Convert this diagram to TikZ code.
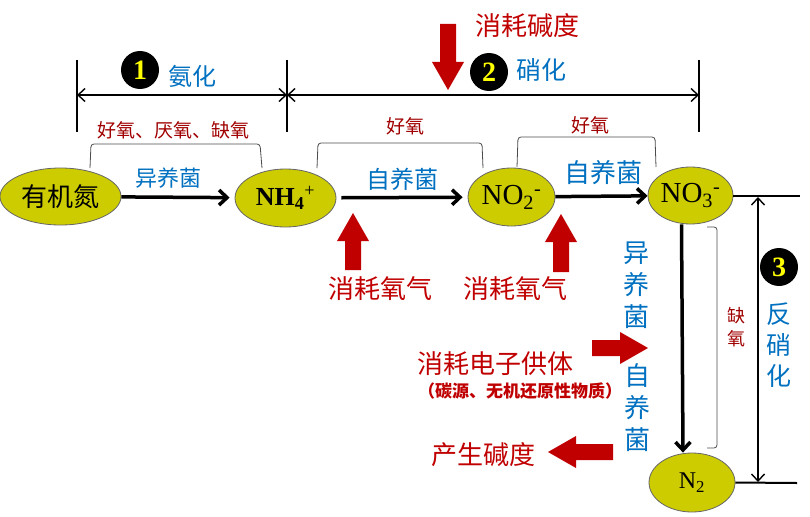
\documentclass[tikz,border=0pt]{standalone}
\usepackage{fontspec}
\setmainfont{Liberation Serif}
\newfontfamily\cjk{Noto Sans CJK SC}
\usetikzlibrary{%
  arrows.meta,%
  shapes.geometric,% ellipse
  positioning,%
  calc}

\definecolor{nfill}{HTML}{CCCC00}
\definecolor{cblue}{HTML}{0070C0}
\definecolor{cred}{HTML}{C00000}
\definecolor{cdred}{HTML}{A00000}
\definecolor{numyellow}{HTML}{FFFF00}

\begin{document}
\begin{tikzpicture}[x=1pt, y=-1pt,
  species/.style={ellipse, draw=black!60, line width=0.8pt, fill=nfill, inner sep=0pt},
  flow/.style={line width=3.5pt, -{Straight Barb[length=8pt,width=15pt]}},
  dimline/.style={line width=1.4pt, {Straight Barb[length=7pt,width=13pt]}-{Straight Barb[length=7pt,width=13pt]}},
  bar/.style={line width=2.5pt},
  brace/.style={line width=0.8pt, black!70, rounded corners=3pt},
  num/.style={circle, fill=black, text=numyellow, minimum size=38pt, inner sep=0pt,
    font=\bfseries\fontsize{28}{28}\selectfont},
  lbl/.style 2 args={inner sep=0pt, align=center, font=\cjk\fontsize{#1}{#2}\selectfont},
  chem/.style={inner sep=0pt, font=\fontsize{#1}{#1}\selectfont},
  pics/redarrow/.style={code={
    \fill[cred] (0,0) -- (16,28) -- (8,28) -- (8,#1) -- (-8,#1) -- (-8,28) -- (-16,28) -- cycle;}}
]
\useasboundingbox (0,0) rectangle (810,516);

% -------- species
\node [species, minimum width=121pt, minimum height=57pt] (orgN) at (60.5,196.5)
  {\cjk\fontsize{26}{26}\selectfont 有机氮};
\node [species, minimum width=101pt, minimum height=58pt, chem=26] (nh4) at (285.5,198)
  {\bfseries NH\textsubscript{4}\textsuperscript{\mdseries +}};
\node [species, minimum width=87pt, minimum height=58pt, chem=29] (no2) at (511.5,197)
  {NO\textsubscript{2}\textsuperscript{-}};
\node [species, minimum width=85pt, minimum height=57pt, chem=29] (no3) at (690.5,195.5)
  {NO\textsubscript{3}\textsuperscript{-}};
\node [species, minimum width=86pt, minimum height=59pt, chem=24] (n2) at (692,482.5)
  {N\textsubscript{2}};

\draw [flow, shorten >=5pt] (orgN) -- (nh4);
\draw [flow, shorten <=5pt, shorten >=5pt] (nh4) -- (no2);
\draw [flow] (no2) -- (no3);
\draw [flow] ([xshift=-9pt]no3.south) -- ([xshift=-9pt]n2.north);

\node [lbl={22}{22}, text=cblue] (bac1) at (168,178) {异养菌};
\node [lbl={24}{24}, text=cblue] (bac2) at (402,179) {自养菌};
\node [lbl={26}{26}, text=cblue] (bac3) at (603,173) {自养菌};

% -------- brackets
\draw [brace] (90,168) -- (91,144) -- (260,144) -- (262,168);
\node [lbl={19}{19}, text=cdred] (env1) at (173,130) {好氧、厌氧、缺氧};
\draw [brace] (317,168) -- (318,143) -- (482,143) -- (483,168);
\node [lbl={19}{19}, text=cdred] (env2) at (405,126) {好氧};
\draw [brace] (517,167) -- (518,137) -- (655,137) -- (656,167);
\node [lbl={19}{19}, text=cdred] (env3) at (590,125) {好氧};
\draw [brace] (707,227) -- (717,227) -- (717,448) -- (707,448);
\node [lbl={18}{23}, text=cdred] (env4) at (736,327) {缺\\氧};

% -------- stages
\coordinate (b1t) at (77,60);  \coordinate (b1b) at (77,132);
\coordinate (b2t) at (287,60); \coordinate (b2b) at (287,132);
\coordinate (b3t) at (699,60); \coordinate (b3b) at (699,132);
\draw [bar] (b1t) -- (b1b);
\draw [bar] (b2t) -- (b2b);
\draw [bar] (b3t) -- (b3b);
\coordinate (d1) at (77,95); \coordinate (d2) at (287,95); \coordinate (d3) at (699,95);
\draw [dimline] (d1) -- (d2);
\draw [dimline] (d2) -- (d3);

\node [num] (n1) at (140,70) {1};
\node [lbl={24}{24}, text=cblue] (st1) at (192,76) {氨化};
\node [num] (n2c) at (489,72) {2};
\node [lbl={25}{25}, text=cblue] (st2) at (541,70) {硝化};

\coordinate (r1) at (800,195.5);
\coordinate (r2) at (797,483);
\draw [line width=2pt] (no3.east) -- (r1);
\draw [line width=2pt] (n2.east) -- (r2);
\coordinate (dn1) at (758,197);
\coordinate (dn2) at (758,482);
\draw [dimline] (dn1) -- (dn2);
\node [num] (n3) at (779,267) {3};
\node [lbl={25}{31}, text=cblue] (st3) at (779,345) {反\\硝\\化};

% -------- consumption / production
\pic [rotate=180] at (448,90) {redarrow=66};
\node [lbl={26}{26}, text=cred] (alk1) at (527,26) {消耗碱度};
\pic at (353,213) {redarrow=57};
\node [lbl={26}{26}, text=cred] (oxy1) at (380,289) {消耗氧气};
\pic at (561,214) {redarrow=58};
\node [lbl={26}{26}, text=cred] (oxy2) at (515,289) {消耗氧气};

\node [lbl={26}{32}, text=cblue] (bac4) at (636,285) {异\\养\\菌};
\node [lbl={26}{32}, text=cblue] (bac5) at (637,408) {自\\养\\菌};

\pic [rotate=-90] at (648,348) {redarrow=56};
\node [lbl={26}{26}, text=cred] (don) at (495,364) {消耗电子供体};
\node [lbl={17}{17}, text=cred, font=\cjk\bfseries\fontsize{17}{17}\selectfont] (don2) at (520,391)
  {（碳源、无机还原性物质）};
\pic [rotate=90] at (548,452) {redarrow=65};
\node [lbl={26}{26}, text=cred] (alk2) at (483,455) {产生碱度};

\end{tikzpicture}
\end{document}
